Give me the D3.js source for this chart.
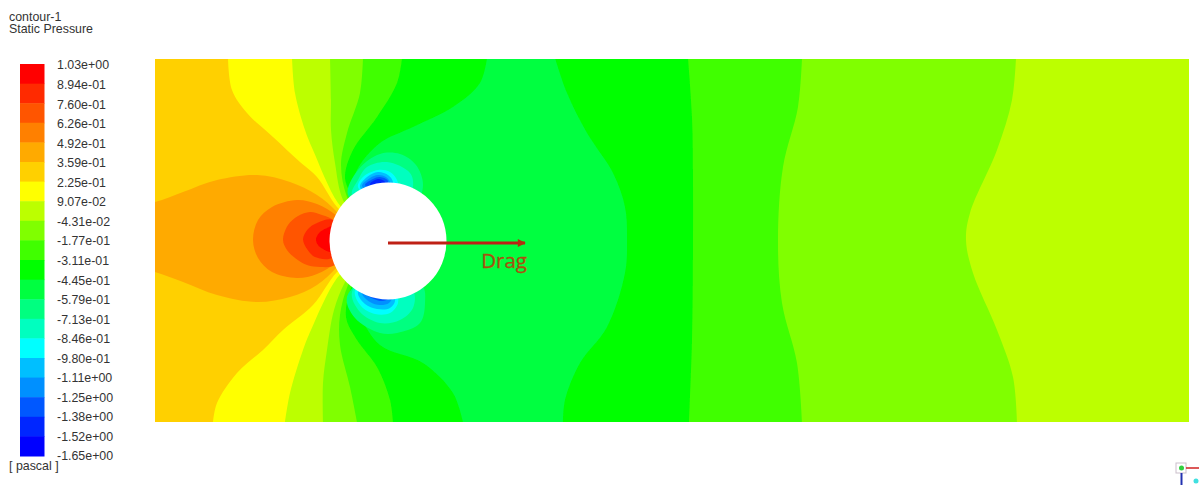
<!DOCTYPE html>
<meta charset="utf-8">
<style>
html, body { margin: 0; padding: 0; background: #fff; overflow: hidden; }
svg { display: block; }
.lbl { font: 12.4px "Liberation Sans", Arial, sans-serif; fill: #333; }
.axis--legend text { font: 12.4px "Liberation Sans", Arial, sans-serif; fill: #333; }
.axis--legend path { display: none; }
.axis--legend line { display: none; }
.drag { font: 20.5px "Open Sans", sans-serif; fill: #a9500f; stroke: #a9500f; stroke-width: 0.3px; }
</style>
<svg width="1199" height="487"></svg>
<script src="https://d3js.org/d3.v7.min.js"></script>
<script>
// legend, top to bottom
var tickLabels = ["1.03e+00", "8.94e-01", "7.60e-01", "6.26e-01", "4.92e-01", "3.59e-01", "2.25e-01",
  "9.07e-02", "-4.31e-02", "-1.77e-01", "-3.11e-01", "-4.45e-01", "-5.79e-01", "-7.13e-01", "-8.46e-01",
  "-9.80e-01", "-1.11e+00", "-1.25e+00", "-1.38e+00", "-1.52e+00", "-1.65e+00"];
var bandColors = ["#ff0000", "#ff2a00", "#ff5500", "#ff8000", "#ffaa00", "#ffd000", "#ffff00", "#bcff00", "#80ff00", "#40ff00",
  "#00ff00", "#00ff40", "#00ff80", "#00ffbf", "#00ffff", "#00bfff", "#0090ff", "#0058ff", "#0028ff", "#0000ff"];

// isolines, top of the domain to the bottom. x,y from the cylinder centre
var iso67 = [[-160,183],[-156,151],[-141,128],[-115,104],[-88,79],[-71,64],[-51,34],[-30,15],[-30,-15],[-51,-31],[-75,-64],[-105,-89],[-125,-109],[-151,-132],[-171,-162],[-175,-181]];
var iso78 = [[-96,183],[-93,148],[-83,111],[-75,91],[-50,38],[-28,15],[-28,-15],[-51,-37],[-77,-89],[-85,-109],[-98,-152],[-103,-181]];
var iso89 = [[-58,183],[-57,141],[-57,111],[-53,78],[-45,41],[-26,15],[-26,-15],[-43,-41],[-54,-69],[-61,-109],[-65,-142],[-65,-181]];
var iso910 = [[-25,183],[-28,148],[-41,108],[-47,76],[-41,44],[-24,15],[-24,-15],[-40,-44],[-48,-74],[-48,-104],[-38,-146],[-31,-181]];
var iso1011 = [[14,183],[9,158],[-11,124],[-35,91],[-43,64],[-37,46],[-22,15],[-22,-15],[-37,-47],[-42,-76],[-31,-99],[-11,-126],[2,-159],[5,-181]];
var iso1112 = [[99,183],[92,158],[65,134],[25,114],[-8,98],[-31,71],[-36,49],[-20,15],[-20,-15],[-36,-49],[-28,-74],[-8,-104],[35,-122],[65,-152],[75,-181]];
var iso1211 = [[167,183],[179,148],[199,108],[225,68],[237,34],[239,1],[237,-32],[219,-86],[192,-122],[177,-159],[175,-181]];
var iso1110 = [[300,183],[304,124],[305,58],[305,1],[304,-99],[301,-181]];
var iso109 = [[414,183],[410,134],[395,74],[390,1],[394,-62],[409,-122],[414,-181]];
var iso98 = [[628,183],[624,141],[609,91],[582,28],[578,1],[585,-32],[609,-89],[625,-136],[629,-181]];

// high pressure lobes upstream
var lobe5 = [[-260,35],[-233,39],[-205,49],[-171,61],[-131,66],[-98,59],[-71,46],[-51,29],[-30,1],[-51,-26],[-71,-44],[-98,-56],[-131,-61],[-171,-54],[-205,-41],[-233,-31],[-260,-25]];
var lobe4 = [[-135,1],[-130,21],[-116,34],[-91,41],[-71,37],[-51,25],[-28,1],[-51,-21],[-71,-33],[-91,-37],[-116,-31],[-130,-17]];
var lobe3 = [[-105,1],[-100,16],[-90,25],[-78,29],[-66,26],[-53,20],[-38,1],[-53,-24],[-68,-26],[-81,-24],[-93,-17],[-101,-9]];
var lobe2 = [[-85,2],[-80,12],[-71,18],[-55,21],[-43,1],[-56,-17],[-73,-16],[-81,-8]];
var lobe1 = [[-72,2],[-68,9],[-61,13],[-54,15],[-43,1],[-56,-11],[-65,-8],[-70,-4]];

// low pressure blobs, top of the cylinder
var top13 = [[-40,46],[-30,71],[-8,87],[12,87],[28,76],[35,56],[27,36],[-8,26]];
var top14 = [[-36,46],[-30,61],[-21,74],[-1,79],[22,68],[25,54],[17,36],[-8,26]];
var top15 = [[-30,54],[-25,64],[-10,71],[2,69],[9,61],[10,51],[-10,41]];
var top16 = [[-28,54],[-21,64],[-10,69],[0,66],[5,59],[2,46],[-10,41]];
var top17 = [[-26,55],[-18,63],[-10,66],[-2,64],[2,58],[-10,45]];
var top18 = [[-23,56],[-15,62],[-8,64],[0,60],[-8,50]];
var top19 = [[-18,57],[-10,62],[-3,59],[-10,52]];

// low pressure blobs, bottom of the cylinder
var bot13 = [[-41,-56],[-33,-77],[-8,-92],[9,-92],[32,-82],[37,-62],[34,-44],[-8,-29]];
var bot14 = [[-36,-51],[-28,-71],[-8,-82],[12,-79],[25,-67],[25,-49],[-8,-29]];
var bot15 = [[-33,-49],[-27,-65],[-13,-73],[2,-72],[10,-62],[8,-51],[-10,-35]];
var bot16 = [[-30,-51],[-23,-63],[-11,-68],[2,-67],[7,-59],[-10,-40]];
var bot17 = [[-26,-52],[-18,-61],[-8,-64],[1,-62],[4,-56],[-10,-42]];
var bot18 = [[-23,-52],[-14,-58],[-5,-60],[2,-56],[-10,-45]];
var bot19 = [[-18,-53],[-10,-56],[-1,-56],[-10,-48]];

var domainX = [-233, 801], domainY = [182, -181];
var cylinderRadius = 58.5;
var dragArrow = [[0,-2],[137,-2]];

var svg = d3.select("svg");
var x = d3.scaleLinear().domain(domainX).range([155, 1189]),
    y = d3.scaleLinear().domain(domainY).range([59, 422]);

var defs = svg.append("defs");
defs.append("clipPath").attr("id", "plot-clip").append("rect")
    .attr("x", x(domainX[0])).attr("y", y(domainY[0]))
    .attr("width", x(domainX[1]) - x(domainX[0]))
    .attr("height", y(domainY[1]) - y(domainY[0]));
defs.append("filter").attr("id", "soft").append("feGaussianBlur").attr("stdDeviation", 0.7);
defs.append("filter").attr("id", "softer").append("feGaussianBlur").attr("stdDeviation", 0.35);
defs.append("marker").attr("id", "head")
    .attr("markerUnits", "userSpaceOnUse")
    .attr("viewBox", "0 0 10 10").attr("refX", 9).attr("refY", 5)
    .attr("markerWidth", 9).attr("markerHeight", 8).attr("orient", "auto")
  .append("path").attr("d", "M0,0L10,5L0,10Z").attr("fill", "#b3300f");

var openCurve = d3.line().curve(d3.curveCatmullRom.alpha(0.5)).x(function(d) { return x(d[0]); }).y(function(d) { return y(d[1]); });
var closedCurve = d3.line().curve(d3.curveCatmullRomClosed.alpha(0.5)).x(function(d) { return x(d[0]); }).y(function(d) { return y(d[1]); });

// everything right of an isoline gets the next band, later ones paint over
function rightOf(iso) {
  return openCurve(iso) + "L" + x(domainX[1] + 10) + "," + y(domainY[1] - 10) + "L" + x(domainX[1] + 10) + "," + y(domainY[0] + 10) + "Z";
}

var plot = svg.append("g").attr("filter", "url(#soft)")
  .append("g").attr("clip-path", "url(#plot-clip)");

plot.append("rect")
    .attr("x", x(domainX[0])).attr("y", y(domainY[0]))
    .attr("width", x(domainX[1]) - x(domainX[0]))
    .attr("height", y(domainY[1]) - y(domainY[0]))
    .attr("fill", bandColors[5]);

var lobes = [[lobe5, 4], [lobe4, 3], [lobe3, 2], [lobe2, 1], [lobe1, 0]];
var isolines = [[iso67, 6], [iso78, 7], [iso89, 8], [iso910, 9], [iso1011, 10], [iso1112, 11], [iso1211, 10], [iso1110, 9], [iso109, 8], [iso98, 7]];
var blobs = [[top13, 12], [top14, 13], [top15, 14], [top16, 15], [top17, 16], [top18, 17], [top19, 18],
  [bot13, 12], [bot14, 13], [bot15, 14], [bot16, 15], [bot17, 16], [bot18, 17], [bot19, 18]];

plot.selectAll(".lobe").data(lobes).enter().append("path")
    .attr("class", "lobe")
    .attr("d", function(d) { return closedCurve(d[0]); })
    .attr("fill", function(d) { return bandColors[d[1]]; });
plot.selectAll(".iso").data(isolines).enter().append("path")
    .attr("class", "iso")
    .attr("d", function(d) { return rightOf(d[0]); })
    .attr("fill", function(d) { return bandColors[d[1]]; });
plot.selectAll(".blob").data(blobs).enter().append("path")
    .attr("class", "blob")
    .attr("d", function(d) { return closedCurve(d[0]); })
    .attr("fill", function(d) { return bandColors[d[1]]; });

plot.append("circle")
    .attr("cx", x(0)).attr("cy", y(0))
    .attr("r", x(cylinderRadius) - x(0))
    .attr("fill", "#fff");

// drag annotation
svg.append("line")
    .attr("x1", x(dragArrow[0][0])).attr("y1", y(dragArrow[0][1]))
    .attr("x2", x(dragArrow[1][0])).attr("y2", y(dragArrow[1][1]))
    .attr("stroke", "#bf2016").attr("stroke-width", 3)
    .attr("marker-end", "url(#head)");
svg.append("text").attr("class", "drag")
    .attr("x", x(dragArrow[1][0]) + 2).attr("y", 268)
    .attr("text-anchor", "end")
    .text("Drag");

// legend
var legendRows = d3.scaleBand().domain(d3.range(bandColors.length)).range([64, 456]);
var legendTicks = d3.scalePoint().domain(tickLabels).range([65, 456]);

svg.append("g").attr("filter", "url(#softer)").selectAll("rect")
    .data(bandColors)
  .enter().append("rect")
    .attr("x", 20).attr("width", 24.5)
    .attr("y", function(d, i) { return legendRows(i); })
    .attr("height", legendRows.bandwidth() + 0.5)
    .attr("fill", function(d) { return d; });

svg.append("g")
    .attr("class", "axis--legend")
    .attr("transform", "translate(48,0)")
    .call(d3.axisRight(legendTicks).tickSize(6).tickPadding(3));

svg.append("text").attr("class", "lbl").attr("x", 9).attr("y", 21).text("contour-1");
svg.append("text").attr("class", "lbl").attr("x", 9).attr("y", 33).text("Static Pressure");
svg.append("text").attr("class", "lbl").attr("x", 9).attr("y", 470).text("[ pascal ]");

// orientation triad, bottom right corner
var triad = svg.append("g").attr("filter", "url(#softer)");
triad.append("rect").attr("x", 1176).attr("y", 463).attr("width", 10).attr("height", 10)
    .attr("fill", "none").attr("stroke", "#cbbfcb").attr("stroke-width", 1);
triad.append("line").attr("x1", 1186).attr("y1", 468).attr("x2", 1199).attr("y2", 468)
    .attr("stroke", "#d02020").attr("stroke-width", 1.5);
triad.append("line").attr("x1", 1181.5).attr("y1", 473).attr("x2", 1181.5).attr("y2", 485)
    .attr("stroke", "#2030b0").attr("stroke-width", 2);
triad.append("circle").attr("cx", 1181.5).attr("cy", 468).attr("r", 2.5).attr("fill", "#30d040");
triad.append("circle").attr("cx", 1196).attr("cy", 481).attr("r", 2.5).attr("fill", "#40e0e0");
</script>
